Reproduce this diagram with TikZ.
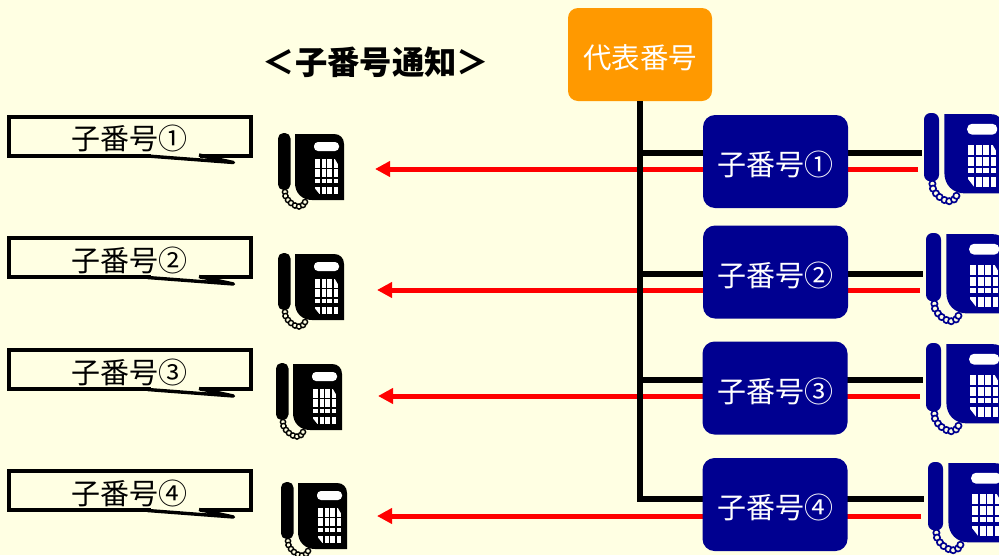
\documentclass[tikz,border=0pt]{standalone}
\usepackage{fontspec}
\setmainfont{Noto Sans CJK JP}
\usepackage{xcolor}
\usetikzlibrary{positioning,arrows.meta}
\definecolor{paper}{HTML}{FFFFE3}
\definecolor{navy}{HTML}{000090}
\definecolor{amber}{HTML}{FF9900}

\begin{document}
\begin{tikzpicture}[
    x=1pt,
    y=-1pt,
    main/.style={
        rectangle,
        fill=amber,
        text=white,
        minimum width=144pt,
        minimum height=93pt,
        inner sep=0pt,
        text height=31pt,
        text depth=4pt,
        rounded corners=10pt,
        font=\fontsize{28.5}{32}\selectfont
    },
    extbox/.style={
        rectangle,
        fill=navy,
        text=white,
        minimum width=145pt,
        minimum height=93pt,
        inner sep=0pt,
        text height=32pt,
        text depth=4pt,
        rounded corners=12pt,
        font=\fontsize{29}{32}\selectfont
    },
    trunk/.style={line width=6pt, black},
    callin/.style={line width=5pt, red, -{Triangle[length=15pt,width=15pt]}},
    pics/balloon/.style={code={
        \draw[fill=paper, line width=4pt, line join=miter]
            (142,39) -- (0,39) -- (0,0) -- (242,0) -- (242,39) -- (191,39);
        \draw[line width=3.4pt, line join=round]
            (190.5,38.5) -- (225,46) -- (139,39.5);
        \node[inner sep=0pt, font=\fontsize{29}{32}\selectfont] (-text) at (121,22) {#1};
    }},
    pics/phone/.style 2 args={code={
        \fill[#1, rounded corners=#2*5.5pt] (0,0) rectangle (12.5,57);
        \fill[#1] (17,1) -- (56,1) .. controls (62,1) and (66,5) .. (66,11) -- (66,67)
            -- (34,67) .. controls (24,67) and (17,60) .. (17,50) -- cycle;
        \fill[white, rounded corners=#2*4pt] (36,9) rectangle (61,18);
        \foreach \a/\b in {37/42,43.7/48,49.3/54.3,55.7/60}
            \foreach \c/\d in {26.3/35.3,36.3/44.3,46/49.7,53.7/61.3}
                \fill[white] (\a,\c) rectangle (\b,\d);
        \fill[#1] (57,26) -- (60.5,26) -- (60.5,32) -- cycle;
        \fill[#1] (36.5,55) -- (36.5,62) -- (42,62) -- cycle;
        \foreach \a/\b in {7/59,7.5/63,10/67,13/70,17/72.5,21/73.5,25/72,27/69}
            \draw[#1, fill=paper, line width=#2*1.4pt] (\a,\b) circle (2.6);
    }}
]
    \path[fill=paper, use as bounding box] (0,0) rectangle (999,555);

    % Title and main number
    \node[font=\bfseries\fontsize{32.3}{36}\selectfont] (title) at (376,62) {＜子番号通知＞};
    \node[main] (main) at (640,54.5) {代表番号};

    % Balloons
    \pic (call1) at (8.5,116.5) {balloon={子番号①}};
    \pic (call2) at (8.5,238) {balloon={子番号②}};
    \pic (call3) at (8.5,350) {balloon={子番号③}};
    \pic (call4) at (8.5,471) {balloon={子番号④}};

    % Phones
    \pic (left1) at (278,133) {phone={black}{1}};
    \pic (left2) at (278,253) {phone={black}{1}};
    \pic (left3) at (276,363) {phone={black}{1}};
    \pic (left4) at (281,482) {phone={black}{1}};
    \pic[scale=1.2] (right1) at (924,113) {phone={navy}{1.2}};
    \pic[scale=1.2] (right2) at (926,233) {phone={navy}{1.2}};
    \pic[scale=1.2] (right3) at (926,343) {phone={navy}{1.2}};
    \pic[scale=1.2] (right4) at (928,462) {phone={navy}{1.2}};

    % Line ends
    \coordinate (to1) at (375,169);
    \coordinate (to2) at (377,290);
    \coordinate (to3) at (378,396);
    \coordinate (to4) at (377,516);
    \coordinate (from1) at (918,169);
    \coordinate (from2) at (920,290);
    \coordinate (from3) at (920,396);
    \coordinate (from4) at (921,516);
    \coordinate (tap1) at (640,153);
    \coordinate (tap2) at (640,274);
    \coordinate (tap3) at (640,380);
    \coordinate (tap4) at (640,499);
    \coordinate (end1) at (922,153);
    \coordinate (end2) at (923,274);
    \coordinate (end3) at (923,380);
    \coordinate (end4) at (924,499);

    % Incoming calls
    \draw[callin] (from1) -- (to1);
    \draw[callin] (from2) -- (to2);
    \draw[callin] (from3) -- (to3);
    \draw[callin] (from4) -- (to4);

    % Lines
    \draw[trunk] (main.south) -- ([yshift=-3pt]tap4);
    \draw[trunk] (tap1) -- (end1);
    \draw[trunk] (tap2) -- (end2);
    \draw[trunk] (tap3) -- (end3);
    \draw[trunk] (tap4) -- (end4);

    % Extension numbers
    \node[extbox] (ext1) at (775.5,161.5) {子番号①};
    \node[extbox] (ext2) at (775.5,272) {子番号②};
    \node[extbox] (ext3) at (775,388) {子番号③};
    \node[extbox] (ext4) at (775,504.5) {子番号④};
\end{tikzpicture}
\end{document}
